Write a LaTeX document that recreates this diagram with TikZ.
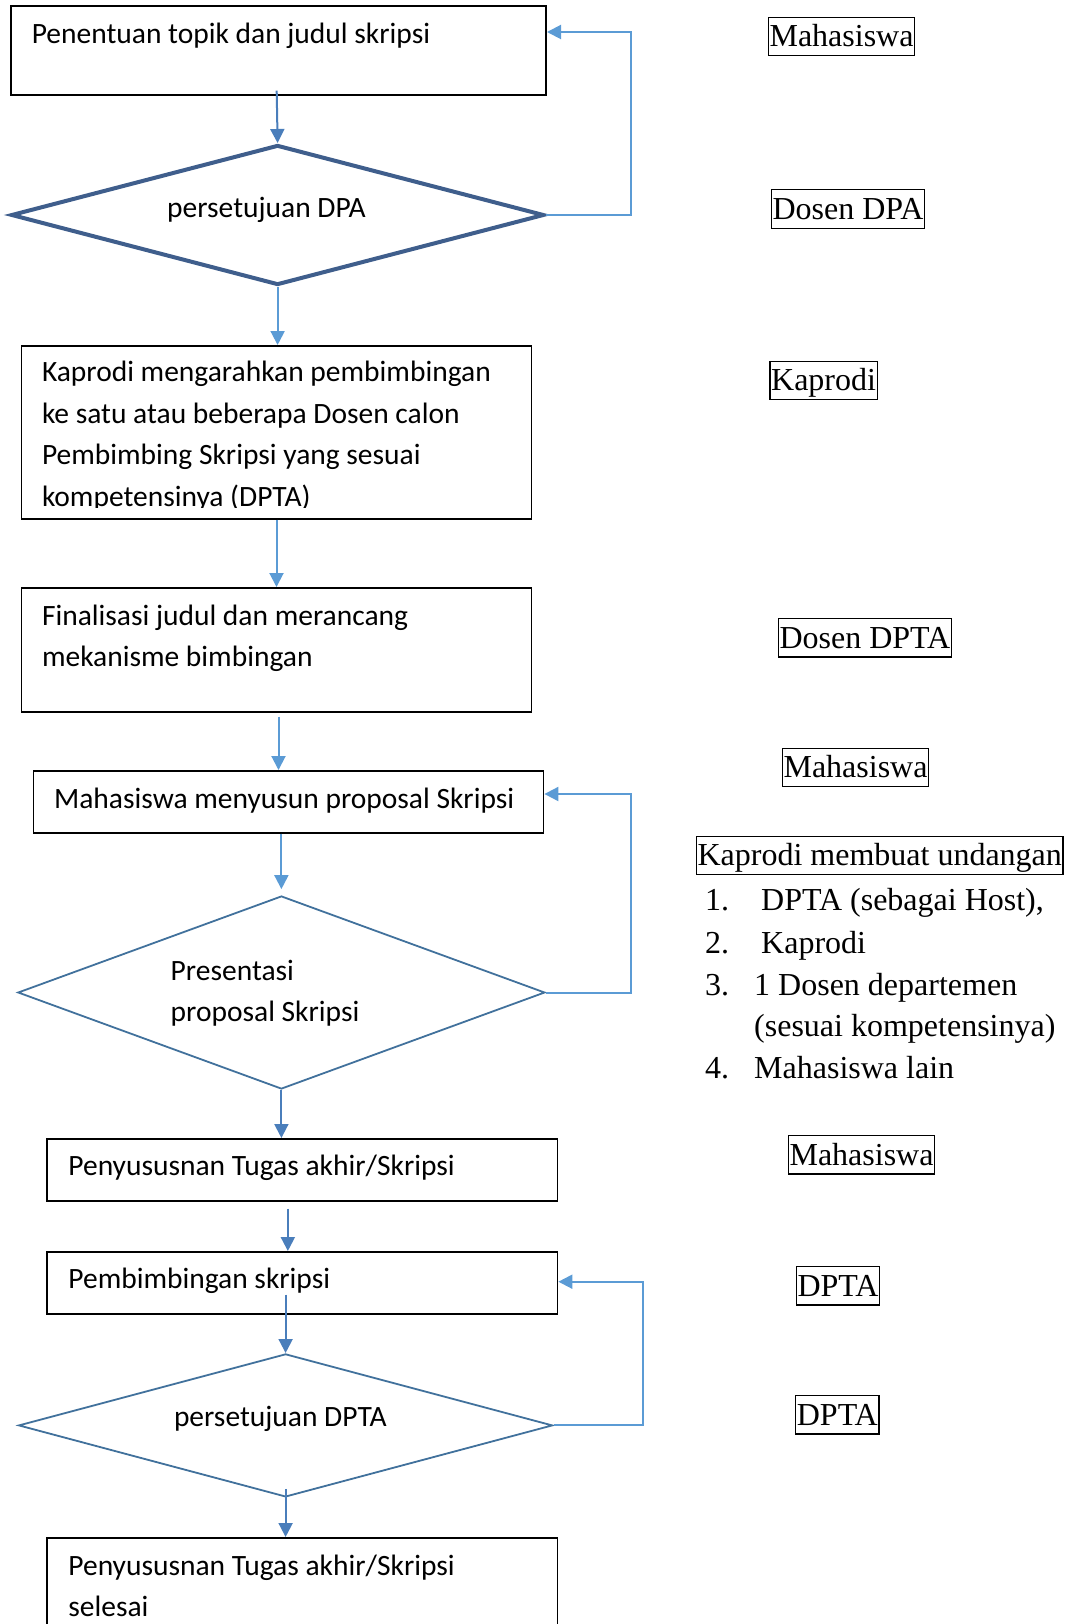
\documentclass[tikz,border=0pt]{standalone}
\usepackage{fontspec}
\setmainfont{Liberation Serif}
\newfontfamily\calib{Carlito}
\usetikzlibrary{arrows.meta,shapes.geometric}
\definecolor{lblue}{HTML}{5B9BD5}
\definecolor{mblue}{HTML}{4A7EBB}
\definecolor{dblue}{HTML}{41719C}
\definecolor{tblue}{HTML}{3F5E8C}
\newcommand{\natsp}{\spaceskip=0pt\xspaceskip=0pt\relax}
\tikzset{
  stepbox/.style={draw=black,line width=1.6pt,rectangle,inner sep=0pt,anchor=north west},
  ltxt/.style={font=\calib\fontsize{29.5pt}{41.6pt}\selectfont,inner sep=0pt,anchor=base west,align=left},
  rtxt/.style={font=\fontsize{32pt}{41.8pt}\selectfont,inner sep=0pt,anchor=base west,align=left},
  role/.style={draw=black,line width=1.3pt,font=\fontsize{32pt}{38pt}\selectfont,inner xsep=1.2pt,inner ysep=0pt,text height=29.5pt,text depth=9pt,anchor=base west},
  decis/.style={diamond,draw=dblue,line width=1.8pt,inner sep=0pt},
  arrl/.style={draw=lblue,line width=2pt,-{Triangle[length=14pt,width=14pt]}},
  arrm/.style={draw=mblue,line width=2pt,-{Triangle[length=14pt,width=14pt]}},
}
\begin{document}
\begin{tikzpicture}[x=1pt,y=-1pt]
\useasboundingbox (0,0) rectangle (1068,1624);
\clip (0,0) rectangle (1068,1624);

% boxes
\node[stepbox,minimum width=535pt,minimum height=89pt] (b1) at (10.4,5) {};
\node[stepbox,minimum width=510pt,minimum height=173pt] (b2) at (20.7,345) {};
\node[stepbox,minimum width=510pt,minimum height=124pt] (b3) at (20.7,587) {};
\node[stepbox,minimum width=510pt,minimum height=62pt] (b4) at (32.8,770) {};
\node[stepbox,minimum width=510.5pt,minimum height=62pt] (b5) at (46.3,1138) {};
\node[stepbox,minimum width=510.5pt,minimum height=62pt] (b6) at (46.3,1251) {};
\node[stepbox,minimum width=510.5pt,minimum height=130pt] (b7) at (46.3,1537) {};

% decisions
\node[decis,draw=tblue,line width=4pt,minimum width=533pt,minimum height=140pt] (d1) at (277.6,215) {};
\node[decis,minimum width=527pt,minimum height=193pt] (d2) at (281.4,992.5) {};
\node[decis,minimum width=534pt,minimum height=143pt] (d3) at (285.6,1425.4) {};

% texts left
\node[ltxt] (t1) at (31.6,44) {Penentuan topik dan judul skripsi};
\node[ltxt] (td1) at (167,218) {persetujuan DPA};
\begin{scope}
\clip (20,345) rectangle (532,507);
\node[ltxt,text width=480pt] (t2) at (41.8,381.7) {\natsp Kaprodi mengarahkan pembimbingan\\ke satu atau beberapa Dosen calon\\Pembimbing Skripsi yang sesuai\\kompetensinya (DPTA)};
\end{scope}
\node[ltxt,text width=480pt] (t3) at (41.8,625) {\natsp Finalisasi judul dan merancang\\mekanisme bimbingan};
\node[ltxt] (t4) at (53.9,808) {Mahasiswa menyusun proposal Skripsi};
\node[ltxt,text width=300pt] (td2) at (170.5,980) {\natsp Presentasi\\proposal Skripsi};
\node[ltxt] (t5) at (68.2,1175) {Penyususnan Tugas akhir/Skripsi};
\node[ltxt] (t6) at (68.2,1288) {Pembimbingan skripsi};
\node[ltxt] (td3) at (173.8,1426.7) {persetujuan DPTA};
\node[ltxt,text width=480pt] (t7) at (68.2,1575) {\natsp Penyususnan Tugas akhir/Skripsi\\selesai};

% arrows
\draw[arrm] ([xshift=-2pt,yshift=5pt]b1.south) -- (d1.north);
\draw[arrl] (d1.south) -- (d1.south |- b2.north);
\draw[arrl] (b2.south) -- (b2.south |- b3.north);
\draw[arrl,shorten <=4pt] ([xshift=2pt]b3.south) -- ([xshift=2pt]b3.south |- b4.north);
\draw[arrl,shorten >=6pt] (d2.north |- b4.south) -- (d2.north);
\draw[arrm] (d2.south) -- (d2.south |- b5.north);
\draw[arrm,shorten <=7pt] ([xshift=-14.5pt]b5.south) -- ([xshift=-14.5pt]b5.south |- b6.north);
\draw[arrm] ([yshift=20pt]d3.north |- b6.south) -- (d3.north);
\draw[arrm] ([yshift=9pt]d3.south) -- (d3.south |- b7.north);

% feedback loops
\draw[arrl] (d1.east) -- ++(85,0) |- (b1.east |- 0,32);
\draw[arrl] (d2.east) -- ++(85,0) |- (b4.east |- 0,794);
\draw[arrl] (d3.east) -- ++(89,0) |- (b6.east |- 0,1281.7);

% roles
\node[role] (r1) at (767.7,46.7) {Mahasiswa};
\node[role] (r2) at (770.7,219.3) {Dosen DPA};
\node[role] (r3) at (769.3,390.7) {Kaprodi};
\node[role] (r4) at (777.7,648) {Dosen DPTA};
\node[role] (r5) at (781.7,777.7) {Mahasiswa};
\node[role] (r6) at (695.7,865.7) {Kaprodi membuat undangan};
\node[rtxt] (n1) at (705,910) {1.};
\node[rtxt] (i1) at (761,910) {DPTA (sebagai Host),};
\node[rtxt] (n2) at (705,953.3) {2.};
\node[rtxt] (i2) at (761,953.3) {Kaprodi};
\node[rtxt] (n3) at (705,995) {3.};
\node[rtxt,text width=320pt] (i3) at (754,995) {\natsp 1 Dosen departemen\\(sesuai kompetensinya)};
\node[rtxt] (n4) at (705,1078.3) {4.};
\node[rtxt] (i4) at (754,1078.3) {Mahasiswa lain};
\node[role] (r7) at (787.7,1165) {Mahasiswa};
\node[role] (r8) at (795.7,1296) {DPTA};
\node[role] (r9) at (795,1425) {DPTA};
\end{tikzpicture}
\end{document}
